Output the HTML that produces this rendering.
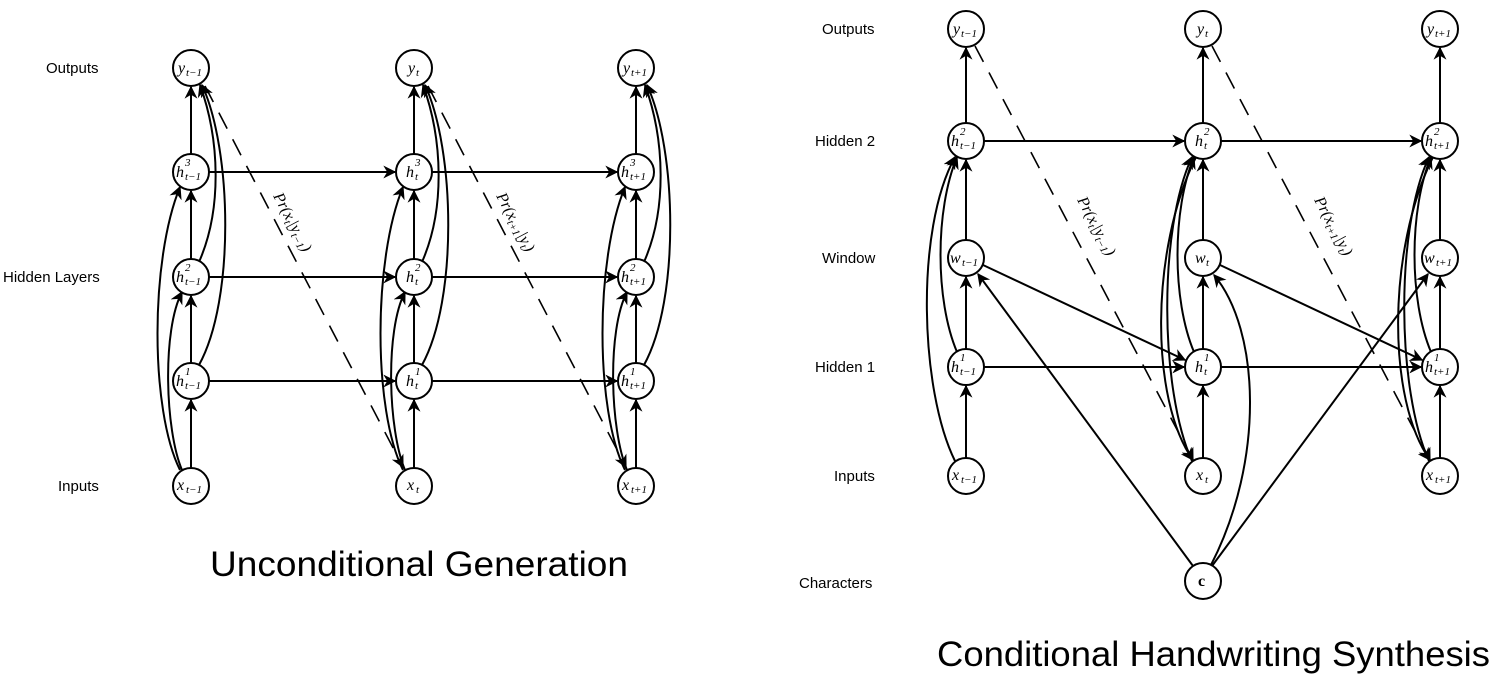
<!DOCTYPE html>
<html><head><meta charset="utf-8"><style>
html,body{margin:0;padding:0;background:#fff;}
svg{display:block;}
.n{fill:#fff;stroke:#000;stroke-width:2;}
.e{fill:none;stroke:#000;stroke-width:2;}
.d{fill:none;stroke:#000;stroke-width:1.6;stroke-dasharray:18 12;}
.m{font-family:"Liberation Serif",serif;font-style:italic;font-size:16px;}
.s{font-family:"Liberation Serif",serif;font-style:italic;font-size:11px;}
.l{font-family:"Liberation Sans",sans-serif;font-size:15px;}
.t{font-family:"Liberation Sans",sans-serif;font-size:35px;}
</style></head><body>
<svg width="1499" height="677" viewBox="0 0 1499 677" xmlns="http://www.w3.org/2000/svg">
<defs><marker id="a" viewBox="0 0 10 10" refX="9" refY="5" markerWidth="13" markerHeight="13" markerUnits="userSpaceOnUse" orient="auto"><path d="M0,0 L10,5 L0,10 L3,5 z" fill="#000"/></marker></defs>

<!-- LEFT DIAGRAM -->
<g class="l">
<text x="46" y="73">Outputs</text>
<text x="3" y="282">Hidden Layers</text>
<text x="58" y="491">Inputs</text>
</g>
<g marker-end="url(#a)" class="e">
<path d="M191,468 V400"/><path d="M191,363 V296"/><path d="M191,259 V191"/><path d="M191,154 V87"/>
<path d="M414,468 V400"/><path d="M414,363 V296"/><path d="M414,259 V191"/><path d="M414,154 V87"/>
<path d="M636,468 V400"/><path d="M636,363 V296"/><path d="M636,259 V191"/><path d="M636,154 V87"/>
<path d="M209,172 H395"/><path d="M432,172 H617"/>
<path d="M209,277 H395"/><path d="M432,277 H617"/>
<path d="M209,381 H395"/><path d="M432,381 H617"/>
</g>
<g class="e" marker-end="url(#a)">
<path d="M180,470 C150,410 150,260 180,187"/>
<path d="M182,470 C165,430 162,330 182,292"/>
<path d="M199,365 C235,300 232,150 202,85"/>
<path d="M199,262 C222,210 220,140 200,85"/>
<path d="M403,470 C373,410 373,260 403,187"/>
<path d="M405,470 C388,430 385,330 405,292"/>
<path d="M422,365 C458,300 455,150 425,85"/>
<path d="M422,262 C445,210 443,140 423,85"/>
<path d="M625,470 C595,410 595,260 625,187"/>
<path d="M627,470 C610,430 607,330 627,292"/>
<path d="M644,365 C680,300 677,150 647,85"/>
<path d="M644,262 C667,210 665,140 645,85"/>
</g>
<path class="d" d="M205,86 L403,467" marker-end="url(#a)"/>
<path class="d" d="M428,86 L626,467" marker-end="url(#a)"/>
<g class="m">
<text transform="translate(273,196) rotate(62)">Pr(x<tspan font-size="11" dy="3">t</tspan><tspan dy="-3">|y</tspan><tspan font-size="11" dy="3">t−1</tspan><tspan dy="-3">)</tspan></text>
<text transform="translate(496,196) rotate(62)">Pr(x<tspan font-size="11" dy="3">t+1</tspan><tspan dy="-3">|y</tspan><tspan font-size="11" dy="3">t</tspan><tspan dy="-3">)</tspan></text>
</g>
<g>
<circle class="n" cx="191" cy="68" r="18"/><circle class="n" cx="414" cy="68" r="18"/><circle class="n" cx="636" cy="68" r="18"/>
<circle class="n" cx="191" cy="172" r="18"/><circle class="n" cx="414" cy="172" r="18"/><circle class="n" cx="636" cy="172" r="18"/>
<circle class="n" cx="191" cy="277" r="18"/><circle class="n" cx="414" cy="277" r="18"/><circle class="n" cx="636" cy="277" r="18"/>
<circle class="n" cx="191" cy="381" r="18"/><circle class="n" cx="414" cy="381" r="18"/><circle class="n" cx="636" cy="381" r="18"/>
<circle class="n" cx="191" cy="486" r="18"/><circle class="n" cx="414" cy="486" r="18"/><circle class="n" cx="636" cy="486" r="18"/>
</g>
<!-- node labels left -->
<g class="m">
<text x="178" y="73">y</text><text x="408" y="73">y</text><text x="623" y="73">y</text>
<text x="176" y="177">h</text><text x="406" y="177">h</text><text x="621" y="177">h</text>
<text x="176" y="282">h</text><text x="406" y="282">h</text><text x="621" y="282">h</text>
<text x="176" y="386">h</text><text x="406" y="386">h</text><text x="621" y="386">h</text>
<text x="177" y="490">x</text><text x="407" y="490">x</text><text x="622" y="490">x</text>
</g>
<g class="s">
<text x="186" y="76">t−1</text><text x="416" y="76">t</text><text x="631" y="76">t+1</text>
<text x="185" y="180">t−1</text><text x="415" y="180">t</text><text x="630" y="180">t+1</text>
<text x="185" y="166">3</text><text x="415" y="166">3</text><text x="630" y="166">3</text>
<text x="185" y="285">t−1</text><text x="415" y="285">t</text><text x="630" y="285">t+1</text>
<text x="185" y="271">2</text><text x="415" y="271">2</text><text x="630" y="271">2</text>
<text x="185" y="389">t−1</text><text x="415" y="389">t</text><text x="630" y="389">t+1</text>
<text x="185" y="375">1</text><text x="415" y="375">1</text><text x="630" y="375">1</text>
<text x="186" y="493">t−1</text><text x="416" y="493">t</text><text x="631" y="493">t+1</text>
</g>
<text class="t" x="210" y="576" textLength="418" lengthAdjust="spacingAndGlyphs">Unconditional Generation</text>

<!-- RIGHT DIAGRAM -->
<g class="l">
<text x="822" y="34">Outputs</text>
<text x="815" y="146">Hidden 2</text>
<text x="822" y="263">Window</text>
<text x="815" y="372">Hidden 1</text>
<text x="834" y="481">Inputs</text>
<text x="799" y="588">Characters</text>
</g>
<g class="e" marker-end="url(#a)">
<path d="M966,458 V386"/><path d="M966,349 V277"/><path d="M966,240 V160"/><path d="M966,123 V48"/>
<path d="M1203,458 V386"/><path d="M1203,349 V277"/><path d="M1203,240 V160"/><path d="M1203,123 V48"/>
<path d="M1440,458 V386"/><path d="M1440,349 V277"/><path d="M1440,240 V160"/><path d="M1440,123 V48"/>
<path d="M984,141 H1184"/><path d="M1221,141 H1421"/>
<path d="M984,367 H1184"/><path d="M1221,367 H1421"/>
<path d="M983,265 L1185,360"/><path d="M1220,265 L1422,360"/>
<path d="M1193,566 L978,274"/>
<path d="M1211,565 C1265,460 1260,330 1214,275"/>
<path d="M1212,566 L1428,274"/>
<path d="M955,461 C920,390 915,230 955,157"/>
<path d="M957,352 C935,300 935,210 957,157"/>
<path d="M1192,461 C1160,390 1158,230 1192,157"/>
<path d="M1194,352 C1172,300 1172,210 1194,157"/>
<path d="M1429,461 C1397,390 1395,230 1429,157"/>
<path d="M1431,352 C1409,300 1409,210 1431,157"/>
<path d="M1196,157 C1150,250 1150,400 1193,460"/>
<path d="M1433,157 C1387,250 1387,400 1430,460"/>
</g>
<path class="d" d="M975,46 L1193,460" marker-end="url(#a)"/>
<path class="d" d="M1212,46 L1430,460" marker-end="url(#a)"/>
<g class="m">
<text transform="translate(1077,200) rotate(62)">Pr(x<tspan font-size="11" dy="3">t</tspan><tspan dy="-3">|y</tspan><tspan font-size="11" dy="3">t−1</tspan><tspan dy="-3">)</tspan></text>
<text transform="translate(1314,200) rotate(62)">Pr(x<tspan font-size="11" dy="3">t+1</tspan><tspan dy="-3">|y</tspan><tspan font-size="11" dy="3">t</tspan><tspan dy="-3">)</tspan></text>
</g>
<g>
<circle class="n" cx="966" cy="29" r="18"/><circle class="n" cx="1203" cy="29" r="18"/><circle class="n" cx="1440" cy="29" r="18"/>
<circle class="n" cx="966" cy="141" r="18"/><circle class="n" cx="1203" cy="141" r="18"/><circle class="n" cx="1440" cy="141" r="18"/>
<circle class="n" cx="966" cy="258" r="18"/><circle class="n" cx="1203" cy="258" r="18"/><circle class="n" cx="1440" cy="258" r="18"/>
<circle class="n" cx="966" cy="367" r="18"/><circle class="n" cx="1203" cy="367" r="18"/><circle class="n" cx="1440" cy="367" r="18"/>
<circle class="n" cx="966" cy="476" r="18"/><circle class="n" cx="1203" cy="476" r="18"/><circle class="n" cx="1440" cy="476" r="18"/>
<circle class="n" cx="1203" cy="581" r="18"/>
</g>
<g class="m">
<text x="953" y="34">y</text><text x="1197" y="34">y</text><text x="1427" y="34">y</text>
<text x="951" y="146">h</text><text x="1195" y="146">h</text><text x="1425" y="146">h</text>
<text x="950" y="263">w</text><text x="1195" y="263">w</text><text x="1424" y="263">w</text>
<text x="951" y="372">h</text><text x="1195" y="372">h</text><text x="1425" y="372">h</text>
<text x="952" y="480">x</text><text x="1196" y="480">x</text><text x="1426" y="480">x</text>
<text x="1198" y="586" font-style="normal" font-weight="bold">c</text>
</g>
<g class="s">
<text x="961" y="37">t−1</text><text x="1205" y="37">t</text><text x="1435" y="37">t+1</text>
<text x="960" y="149">t−1</text><text x="1204" y="149">t</text><text x="1434" y="149">t+1</text>
<text x="960" y="135">2</text><text x="1204" y="135">2</text><text x="1434" y="135">2</text>
<text x="962" y="266">t−1</text><text x="1206" y="266">t</text><text x="1436" y="266">t+1</text>
<text x="960" y="375">t−1</text><text x="1204" y="375">t</text><text x="1434" y="375">t+1</text>
<text x="960" y="361">1</text><text x="1204" y="361">1</text><text x="1434" y="361">1</text>
<text x="961" y="483">t−1</text><text x="1205" y="483">t</text><text x="1435" y="483">t+1</text>
</g>
<text class="t" x="937" y="666" textLength="553" lengthAdjust="spacingAndGlyphs">Conditional Handwriting Synthesis</text>
</svg>
</body></html>
